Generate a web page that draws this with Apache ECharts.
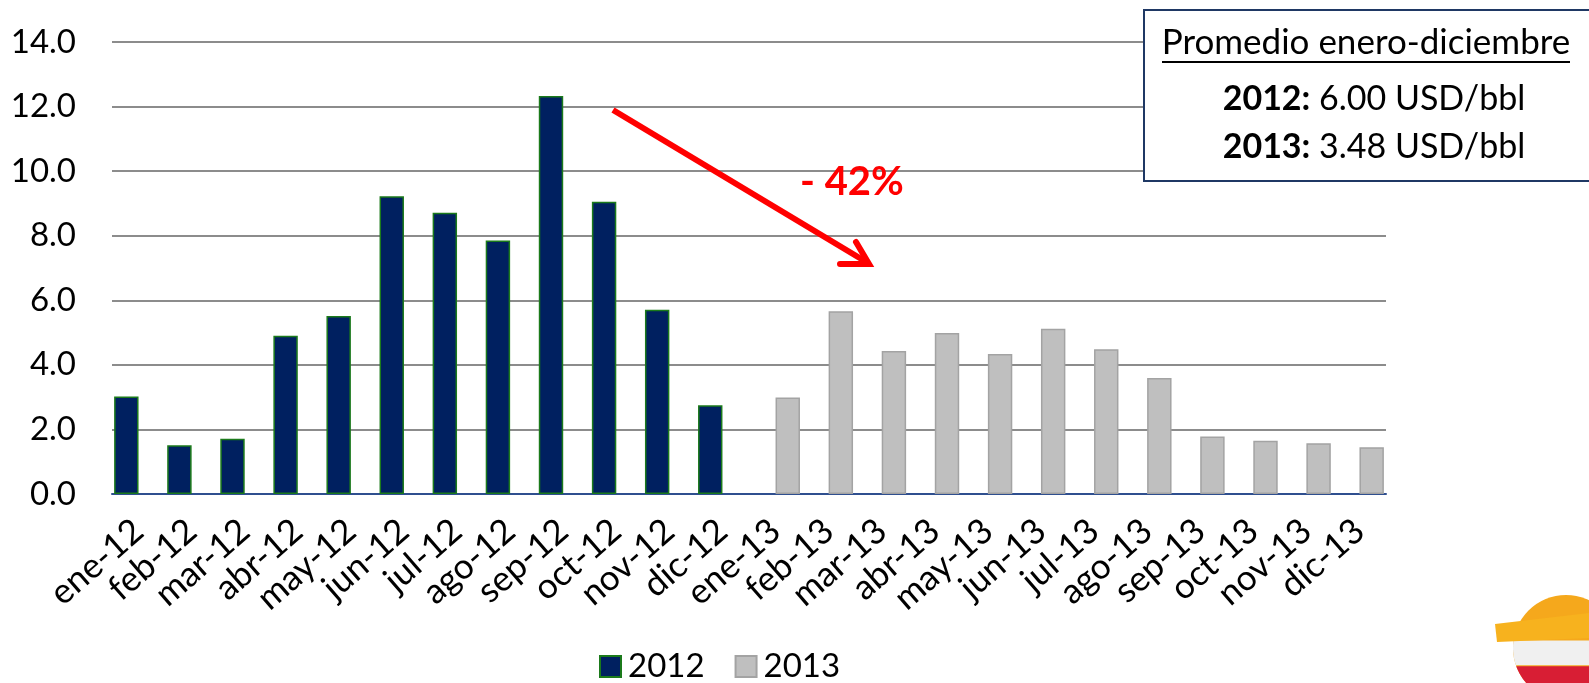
<!DOCTYPE html>
<html>
<head>
<meta charset="utf-8">
<script src="https://cdn.jsdelivr.net/npm/echarts@6/dist/echarts.min.js"></script>
<style>
  html, body { margin: 0; padding: 0; background: #fff; }
  #chart { width: 1589px; height: 683px; }
</style>
</head>
<body>
<div id="chart"></div>
<script>
const categories = [
  "ene-12", "feb-12", "mar-12", "abr-12", "may-12", "jun-12",
  "jul-12", "ago-12", "sep-12", "oct-12", "nov-12", "dic-12",
  "ene-13", "feb-13", "mar-13", "abr-13", "may-13", "jun-13",
  "jul-13", "ago-13", "sep-13", "oct-13", "nov-13", "dic-13"
];
const vals2012 = [3.02, 1.51, 1.71, 4.90, 5.51, 9.22, 8.71, 7.85, 12.33, 9.05, 5.71, 2.75];
const vals2013 = [2.99, 5.66, 4.43, 4.99, 4.34, 5.12, 4.48, 3.59, 1.78, 1.65, 1.57, 1.45];
const yTicks = { min: 0, max: 14, interval: 2 };
const boxTitle = "Promedio enero-diciembre";
const boxLines = [["2012:", " 6.00 USD/bbl"], ["2013:", " 3.48 USD/bbl"]];
const changeLabel = "- 42%";

const FONT = "Lato, 'Liberation Sans', sans-serif";

// 2012 occupies the first 12 slots, 2013 the last 12
const data2012 = vals2012.concat(vals2013.map(() => "-"));
const data2013 = vals2012.map(() => "-").concat(vals2013);

// strip of a circle between y0 and y1 (for the logo)
function band(cx, cy, r, y0, y1) {
  const pts = [];
  for (let i = 0; i <= 180; i++) {
    const a = -Math.PI / 2 + Math.PI * i / 180;
    const y = cy + r * Math.sin(a);
    if (y >= y0 && y <= y1) pts.push([cx + r * Math.cos(a), y]);
  }
  for (let i = 180; i >= 0; i--) {
    const a = -Math.PI / 2 + Math.PI * i / 180;
    const y = cy + r * Math.sin(a);
    if (y >= y0 && y <= y1) pts.push([cx - r * Math.cos(a), y]);
  }
  return pts;
}

const chart = echarts.init(document.getElementById("chart"), null, { renderer: "canvas" });

chart.setOption({
  animation: false,
  textStyle: { fontFamily: FONT },
  grid: { left: 112, right: 203, top: 42, bottom: 189 },
  legend: {
    left: 594, top: 645,
    icon: "rect",
    itemWidth: 21, itemHeight: 21, itemGap: 30,
    textStyle: { fontSize: 33, color: "#000", fontFamily: FONT, padding: [0, 0, 0, 2] },
    data: ["2012", "2013"]
  },
  xAxis: {
    type: "category",
    data: categories,
    axisTick: { show: false },
    axisLine: { lineStyle: { color: "#2F4F8F", width: 2 } },
    axisLabel: { rotate: 41, fontSize: 35, color: "#000", margin: 32, interval: 0, fontFamily: FONT }
  },
  yAxis: {
    type: "value",
    min: yTicks.min, max: yTicks.max, interval: yTicks.interval,
    axisLine: { show: false },
    axisTick: { show: false },
    axisLabel: { fontSize: 33, color: "#000", margin: 36, fontFamily: FONT,
                 formatter: v => v.toFixed(1) },
    splitLine: { lineStyle: { color: "#8C8C8C", width: 2 } }
  },
  series: [
    {
      name: "2012", type: "bar", data: data2012,
      barGap: "0%", barCategoryGap: "8%",
      itemStyle: { color: "#002060", borderColor: "#1B7A1B", borderWidth: 1.5 }
    },
    {
      name: "2013", type: "bar", data: data2013,
      itemStyle: { color: "#BFBFBF", borderColor: "#A3A3A3", borderWidth: 1.5 }
    }
  ],
  graphic: [
    // summary box
    { type: "rect", left: 1143, top: 9, shape: { width: 460, height: 171 },
      style: { fill: "#fff", stroke: "#1F3864", lineWidth: 2 }, z: 10 },
    { type: "text", x: 1366, y: 43, z: 11,
      style: { text: boxTitle, font: "35px " + FONT, fill: "#000",
               align: "center", verticalAlign: "middle" } },
    { type: "line", z: 11, shape: { x1: 1162, y1: 62, x2: 1570, y2: 62 },
      style: { stroke: "#000", lineWidth: 2 } },
    { type: "text", x: 1374, y: 99, z: 11,
      style: { text: "{b|" + boxLines[0][0] + "}" + boxLines[0][1], font: "34px " + FONT,
               fill: "#000", align: "center", verticalAlign: "middle",
               rich: { b: { fontWeight: "bold", fontSize: 34, fontFamily: FONT } } } },
    { type: "text", x: 1374, y: 147, z: 11,
      style: { text: "{b|" + boxLines[1][0] + "}" + boxLines[1][1], font: "34px " + FONT,
               fill: "#000", align: "center", verticalAlign: "middle",
               rich: { b: { fontWeight: "bold", fontSize: 34, fontFamily: FONT } } } },
    // red arrow annotation
    { type: "line", z: 12, shape: { x1: 613, y1: 110, x2: 868, y2: 263 },
      style: { stroke: "#FF0000", lineWidth: 6 } },
    { type: "polyline", z: 12, shape: { points: [[856, 242], [869, 264], [840, 264]] },
      style: { stroke: "#FF0000", lineWidth: 6, fill: null, lineJoin: "miter", lineCap: "round" } },
    { type: "text", x: 800, y: 182, z: 12,
      style: { text: changeLabel, font: "bold 40px " + FONT, fill: "#FF0000",
               align: "left", verticalAlign: "middle" } },
    // logo
    { type: "group", z: 12, children: [
      { type: "circle", shape: { cx: 1566, cy: 648, r: 53 }, style: { fill: "#F5A81C" } },
      { type: "polygon", shape: { points: band(1566, 648, 53, 640, 666) }, style: { fill: "#F0F0F0" } },
      { type: "polygon", shape: { points: band(1566, 648, 53, 666, 701) }, style: { fill: "#D81E34" } },
      { type: "polygon", shape: { points: [[1495, 624], [1589, 613], [1589, 638], [1497, 642]] },
        style: { fill: "#F7B21E" } }
    ] }
  ]
});
</script>
</body>
</html>
